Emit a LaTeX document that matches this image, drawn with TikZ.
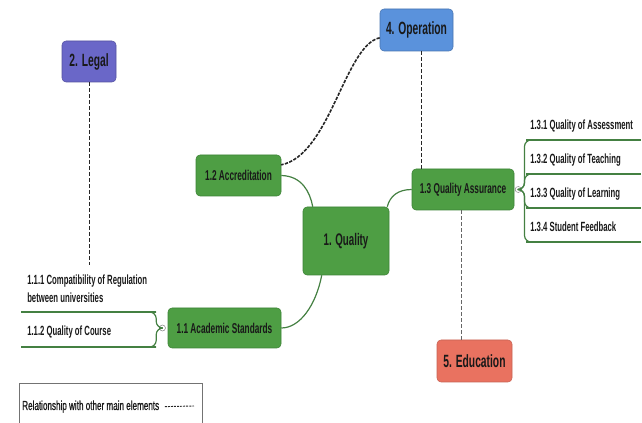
\documentclass[tikz,border=0pt]{standalone}
\usepackage{fontspec}
\newfontfamily\narrowfont{Liberation Sans}[FakeStretch=0.58]
\newfontfamily\legendfont{Liberation Sans}[FakeStretch=0.62,FakeBold=0.8]
\usetikzlibrary{positioning}

\definecolor{topicgreen}{RGB}{78,158,68}
\definecolor{topicedge}{RGB}{60,130,54}
\definecolor{branchgreen}{RGB}{68,128,66}
\definecolor{legalpurple}{RGB}{106,103,200}
\definecolor{operblue}{RGB}{90,146,220}
\definecolor{edured}{RGB}{233,114,96}

\tikzset{
  topic/.style={draw=topicedge,fill=topicgreen,rounded corners=3pt,text=black!90,inner sep=0pt,line width=0.4pt,
    font=\narrowfont\bfseries\fontsize{10.7}{12}\selectfont},
  mainel/.style={topic,font=\narrowfont\bfseries\fontsize{13.3}{15}\selectfont},
  subtext/.style={font=\narrowfont\bfseries\fontsize{10}{13}\selectfont,align=left,inner sep=0pt,text=black!90},
  branch/.style={draw=branchgreen,line width=0.9pt},
  underline/.style={draw=branchgreen,line width=2.2pt},
  relation/.style={draw=black!85,dash pattern=on 3pt off 1.5pt,line width=0.6pt},
  knob/.style={circle,draw=black!45,fill=white,inner sep=0pt,minimum size=4.5pt,line width=0.4pt}
}

\begin{document}
\begin{tikzpicture}[x=0.75pt,y=0.75pt,yscale=-1,xscale=1]
%set diagram left start at 0, and has height of 423
\path[use as bounding box] (0,0) rectangle (642,423);

% Main elements
\node[mainel,fill=legalpurple,draw=legalpurple!80!black,minimum width=40.5pt,minimum height=30.75pt] (legal) at (89,61.5) {2. Legal};
\node[mainel,fill=operblue,draw=operblue!80!black,minimum width=54.75pt,minimum height=31.5pt] (oper) at (416.5,30) {4. Operation};
\node[mainel,fill=edured,draw=edured!85!black,minimum width=56.25pt,minimum height=31.5pt] (edu) at (474.5,361) {5. Education};

% Quality topics
\node[topic,font=\narrowfont\bfseries\fontsize{12.6}{14}\selectfont,minimum width=64.5pt,minimum height=51pt] (quality) at (346,241) {1. Quality};
\node[topic,minimum width=63.75pt,minimum height=30.75pt] (accr) at (238.5,175.5) {1.2 Accreditation};
\node[topic,minimum width=76.5pt,minimum height=30.75pt] (qa) at (463,189.5) {1.3 Quality Assurance};
\node[topic,minimum width=84.75pt,minimum height=30pt] (acad) at (224.5,328) {1.1 Academic Standards};

% Branches
\draw[branch] (accr.east) .. controls (302,176) and (310,192) .. ([xshift=7.5pt]quality.north west);
\draw[branch] ([xshift=-1.5pt]quality.north east) .. controls (390,196) and (398,189.5) .. (qa.west);
\draw[branch] ([xshift=14.25pt]quality.south west) .. controls (316,305) and (300,328) .. (acad.east);

% Relationships
\coordinate (legalend) at (89,265);
\draw[relation] (legal.south) -- (legalend);
\draw[relation,line width=1.2pt,dash pattern=on 2.5pt off 1pt] (oper.192) .. controls (345,45) and (330,155) .. (accr.14);
\draw[relation] ([xshift=4pt]oper.south) -- ([xshift=4pt]oper.south |- qa.north);
\draw[relation,draw=black!60] ([xshift=-1.5pt]qa.south) -- ([xshift=-1.5pt]qa.south |- edu.north);

% Knobs
\node[knob,right=0.5pt of qa] (qaknob) {};
\node[knob,left=1.5pt of acad] (acadknob) {};

% Subtopics of 1.3
\coordinate (qa1) at (526,140);
\coordinate (qa2) at (526,174);
\coordinate (qa3) at (526,208);
\coordinate (qa4) at (526,242);
\coordinate (qae1) at (641,140);
\coordinate (qae2) at (641,174);
\coordinate (qae3) at (641,208);
\coordinate (qae4) at (641,242);
\draw[branch,rounded corners=5pt] (qaknob.east) -- ++(3,0) |- (qa1);
\draw[branch,rounded corners=5pt] (qaknob.east) -- ++(3,0) |- (qa2);
\draw[branch,rounded corners=5pt] (qaknob.east) -- ++(3,0) |- (qa3);
\draw[branch,rounded corners=5pt] (qaknob.east) -- ++(3,0) |- (qa4);
\draw[underline] (qa1) -- (qae1);
\draw[underline] (qa2) -- (qae2);
\draw[underline] (qa3) -- (qae3);
\draw[underline] (qa4) -- (qae4);
% Text Node
\node[subtext,anchor=base west] (qat1) at (530,130) {1.3.1 Quality of Assessment};
\node[subtext,anchor=base west] (qat2) at (530,164) {1.3.2 Quality of Teaching};
\node[subtext,anchor=base west] (qat3) at (530,198) {1.3.3 Quality of Learning};
\node[subtext,anchor=base west] (qat4) at (530,232) {1.3.4 Student Feedback};

% Subtopics of 1.1
\coordinate (ac1) at (156,312);
\coordinate (ac2) at (156,347);
\coordinate (ace1) at (21,312);
\coordinate (ace2) at (21,347);
\draw[branch,rounded corners=5pt] (acadknob.west) -- ++(-3,0) |- (ac1);
\draw[branch,rounded corners=5pt] (acadknob.west) -- ++(-3,0) |- (ac2);
\draw[underline] (ac1) -- (ace1);
\draw[underline] (ac2) -- (ace2);
% Text Node
\node[subtext,anchor=base west] (act1) at (27,285) {1.1.1 Compatibility of Regulation};
\node[subtext,anchor=base west] (act1b) at (27,302.5) {between universities};
\node[subtext,anchor=base west] (act2) at (27,335.5) {1.1.2 Quality of Course};

% Legend
\draw[black!55,line width=0.5pt] (19,424) |- (202,383) -- (202,424);
\node[anchor=base west,inner sep=0pt,font=\legendfont\fontsize{9.8}{11}\selectfont,text=black!90] (legtext) at (22,410) {Relationship with other main elements};
\coordinate (legend) at (194,406);
\draw[relation,line width=0.7pt,dash pattern=on 1.5pt off 0.8pt] ([xshift=4pt]legtext.east) -- (legend);

\end{tikzpicture}
\end{document}
